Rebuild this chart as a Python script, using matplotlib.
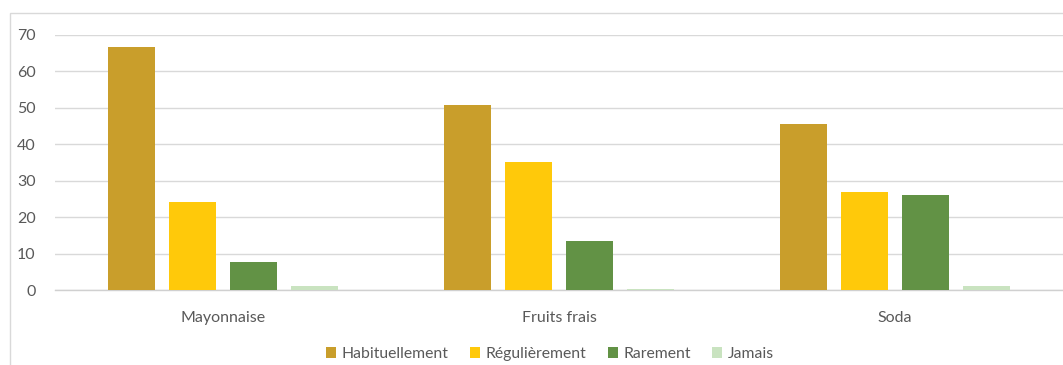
import numpy as np
import matplotlib.pyplot as plt
from matplotlib.patches import Rectangle

categories = ['Mayonnaise', 'Fruits frais', 'Soda']
series = ['Habituellement', 'Régulièrement', 'Rarement', 'Jamais']
habituellement = [66.7, 50.8, 45.6]
regulierement = [24.2, 35.1, 26.9]
rarement = [7.8, 13.5, 26.1]
jamais = [1.1, 0.2, 1.1]
colors = ['#C99E2B', '#FFC90A', '#629245', '#C9E3C0']

plt.rcParams['font.family'] = ['Lato', 'DejaVu Sans']

fig = plt.figure(figsize=(10.63, 3.65), dpi=100)
ax = fig.add_axes([55 / 1063, 1 - 290 / 365, 1008 / 1063, 255 / 365])

# light frame around the chart area (runs off the right edge)
fig.patches.append(Rectangle((10 / 1063, -0.01), 1.0, 1 - 13 / 365 + 0.01,
                             transform=fig.transFigure, fill=False,
                             edgecolor='#D9D9D9', linewidth=1))

x = np.arange(len(categories))
width = 0.14
step = 0.1815
values = [habituellement, regulierement, rarement, jamais]
for i, (name, vals) in enumerate(zip(series, values)):
    ax.bar(x + (i - 1.5) * step, vals, width, color=colors[i], label=name, zorder=3)

ax.set_xlim(-0.5, 2.5)
ax.set_ylim(0, 70)
ax.set_yticks(range(0, 71, 10))
ax.yaxis.grid(True, color='#D9D9D9', linewidth=1, zorder=0)
ax.set_xticks(x)
ax.set_xticklabels(categories)
ax.tick_params(axis='both', length=0, labelsize=11.5, labelcolor='#595959')
ax.tick_params(axis='x', pad=15)
ax.tick_params(axis='y', pad=14)
for side in ['top', 'right', 'left']:
    ax.spines[side].set_visible(False)
ax.spines['bottom'].set_color('#D0D0D0')
ax.spines['bottom'].set_linewidth(1)

leg = fig.legend(loc='center', bbox_to_anchor=(550 / 1063, 1 - 354 / 365), ncol=4,
                 frameon=False, fontsize=11.3, handlelength=0.65, handleheight=0.65,
                 handletextpad=0.35, columnspacing=1.35)
for t in leg.get_texts():
    t.set_color('#595959')

fig.savefig('out.png', dpi=100)
